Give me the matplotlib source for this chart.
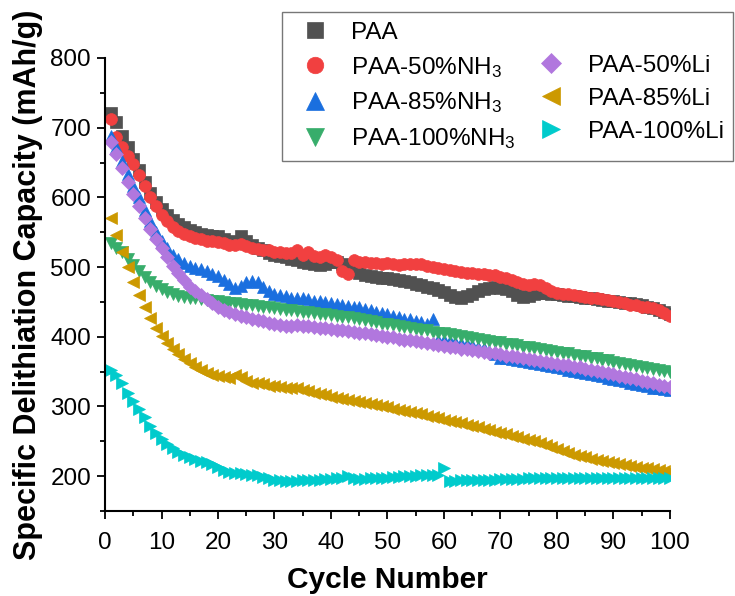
import matplotlib
matplotlib.use("Agg")
import matplotlib.pyplot as plt
from matplotlib.ticker import MultipleLocator
from matplotlib.lines import Line2D

plt.rcParams['font.family'] = ['Liberation Sans', 'DejaVu Sans']
plt.rcParams['mathtext.fontset'] = 'custom'
plt.rcParams['mathtext.rm'] = 'Liberation Sans'
plt.rcParams['mathtext.it'] = 'Liberation Sans:italic'
plt.rcParams['mathtext.bf'] = 'Liberation Sans:bold'

cycles = list(range(1, 101))

paa = [721, 708, 688, 672, 655, 640, 622, 606, 593, 583,
       575, 568, 562, 557, 553, 550, 548, 546, 545, 544,
       541, 538, 536, 545, 537, 532, 528, 524, 520, 518,
       516, 514, 512, 510, 508, 506, 504, 503, 505, 508,
       507, 505, 500, 496, 492, 489, 487, 486, 485, 484,
       483, 482, 480, 478, 476, 474, 472, 470, 467, 464,
       460, 457, 456, 458, 462, 465, 468, 470, 471, 470,
       468, 465, 460, 457, 458, 461, 463, 463, 462, 461,
       460, 459, 458, 457, 456, 455, 454, 453, 452, 451,
       450, 449, 448, 447, 445, 443, 441, 439, 436, 433]

nh3_50 = [712, 686, 672, 660, 648, 632, 617, 600, 588, 575,
          566, 558, 552, 548, 545, 542, 540, 538, 537, 536,
          534, 532, 531, 533, 530, 528, 526, 525, 524, 522,
          521, 520, 520, 524, 518, 522, 516, 515, 518, 514,
          510, 494, 490, 510, 508, 507, 506, 506, 505, 506,
          504, 503, 504, 505, 505, 504, 502, 500, 498, 497,
          496, 494, 493, 492, 491, 490, 490, 489, 488, 486,
          484, 481, 478, 476, 475, 476, 474, 470, 466, 463,
          462, 461, 460, 458, 457, 456, 455, 454, 453, 451,
          450, 448, 446, 445, 443, 442, 441, 438, 434, 430]

nh3_85 = [688, 672, 652, 634, 617, 600, 582, 566, 551, 538,
          527, 518, 512, 506, 502, 499, 497, 494, 490, 487,
          482, 476, 470, 473, 478, 480, 478, 472, 466, 462,
          460, 458, 456, 455, 456, 454, 452, 451, 450, 449,
          447, 445, 444, 443, 442, 440, 438, 436, 434, 432,
          430, 428, 426, 425, 423, 421, 419, 426, 396, 395,
          394, 392, 391, 389, 388, 386, 384, 380, 375, 370,
          369, 368, 366, 365, 364, 362, 361, 359, 358, 356,
          355, 353, 351, 350, 348, 346, 345, 343, 341, 339,
          338, 336, 334, 332, 331, 329, 327, 326, 325, 324]

nh3_100 = [534, 528, 521, 512, 503, 494, 486, 479, 473, 468,
           464, 461, 459, 457, 456, 455, 454, 453, 452, 451,
           450, 449, 448, 447, 446, 445, 444, 443, 442, 441,
           440, 439, 438, 437, 436, 435, 434, 433, 432, 431,
           430, 429, 428, 427, 425, 424, 422, 421, 419, 418,
           417, 415, 414, 413, 411, 410, 409, 407, 406, 405,
           404, 402, 401, 400, 398, 397, 396, 394, 393, 392,
           390, 389, 388, 386, 385, 384, 382, 381, 380, 378,
           377, 376, 374, 373, 372, 370, 369, 367, 366, 364,
           363, 361, 360, 358, 357, 355, 354, 352, 351, 349]

li_50 = [679, 662, 642, 622, 605, 588, 571, 555, 541, 527,
         514, 502, 491, 481, 472, 466, 460, 454, 448, 443,
         439, 435, 432, 430, 428, 426, 424, 422, 420, 418,
         417, 416, 416, 417, 416, 415, 414, 413, 412, 411,
         410, 409, 408, 407, 406, 405, 404, 402, 401, 400,
         399, 397, 396, 395, 394, 392, 391, 390, 388, 387,
         386, 385, 383, 382, 381, 380, 378, 377, 376, 375,
         373, 372, 371, 369, 368, 367, 365, 364, 363, 361,
         360, 359, 357, 356, 354, 353, 351, 350, 348, 346,
         344, 342, 341, 339, 337, 335, 333, 331, 330, 328]

li_85 = [570, 546, 522, 500, 479, 460, 442, 427, 413, 401,
         391, 383, 375, 368, 362, 357, 352, 348, 345, 343,
         342, 341, 345, 342, 336, 334, 333, 332, 330, 329,
         328, 327, 326, 326, 324, 322, 320, 318, 316, 314,
         312, 310, 309, 308, 307, 305, 304, 302, 300, 299,
         297, 295, 294, 292, 290, 289, 287, 285, 283, 281,
         279, 277, 276, 274, 272, 270, 268, 266, 264, 262,
         260, 258, 256, 254, 252, 250, 248, 245, 242, 239,
         236, 233, 231, 229, 227, 225, 223, 222, 220, 219,
         217, 216, 214, 213, 212, 211, 210, 209, 208, 207]

li_100 = [353, 345, 333, 320, 308, 297, 285, 272, 262, 254,
          246, 240, 235, 231, 227, 224, 222, 220, 217, 213,
          209, 206, 205, 204, 203, 202, 201, 199, 197, 195,
          194, 193, 193, 193, 194, 194, 195, 195, 196, 196,
          197, 198, 200, 197, 196, 196, 197, 197, 198, 198,
          199, 199, 200, 200, 200, 201, 201, 201, 202, 211,
          193, 193, 194, 194, 194, 195, 195, 195, 195, 196,
          196, 196, 196, 196, 197, 197, 197, 197, 197, 197,
          197, 197, 197, 197, 197, 197, 197, 197, 197, 197,
          197, 197, 197, 197, 197, 197, 197, 197, 197, 197]

series_labels = ['PAA', 'PAA-50%NH$_3$', 'PAA-85%NH$_3$', 'PAA-100%NH$_3$',
                 'PAA-50%Li', 'PAA-85%Li', 'PAA-100%Li']
series_data = [paa, nh3_50, nh3_85, nh3_100, li_50, li_85, li_100]
colors = ['#515151', '#F14040', '#1A6FDF', '#37AD6B', '#B177DE', '#CC9900', '#00CBCC']
markers = ['s', 'o', '^', 'v', 'D', '<', '>']
msizes = [8, 8.5, 9, 9, 7, 9, 9]

fig = plt.figure(figsize=(7.35, 5.96), dpi=100)
ax = fig.add_axes([105/735, 85/596, 565/735, 453/596])

lines = []
for d, lab, c, m, ms in zip(series_data, series_labels, colors, markers, msizes):
    ln, = ax.plot(cycles, d, linestyle='none', marker=m, markersize=ms,
                  color=c, markeredgecolor=c, markeredgewidth=0.5, label=lab)
    lines.append(ln)

ax.set_xlim(0, 100)
ax.set_ylim(150, 800)
ax.xaxis.set_major_locator(MultipleLocator(10))
ax.xaxis.set_minor_locator(MultipleLocator(5))
ax.yaxis.set_minor_locator(MultipleLocator(50))
ax.set_yticks([200, 300, 400, 500, 600, 700, 800])
ax.spines['top'].set_visible(False)
ax.spines['right'].set_visible(False)
for s in ['left', 'bottom']:
    ax.spines[s].set_linewidth(1.5)
ax.tick_params(which='major', direction='out', length=6, width=1.3, labelsize=17.5)
ax.tick_params(axis='x', which='major', pad=9)
ax.tick_params(axis='y', which='major', pad=4)
ax.tick_params(which='minor', direction='out', length=3.5, width=1.3)

ax.set_xlabel('Cycle Number', fontsize=21.5, fontweight='bold', labelpad=9)
ax.set_ylabel('Specific Delithiation Capacity (mAh/g)', fontsize=22, fontweight='bold', labelpad=5)

blank = Line2D([], [], linestyle='none', marker=None)
handles = [lines[0], lines[1], lines[2], lines[3], blank, lines[4], lines[5], lines[6]]
labels = [series_labels[0], series_labels[1], series_labels[2], series_labels[3], '',
          series_labels[4], series_labels[5], series_labels[6]]
leg = fig.legend(handles, labels, loc='upper left', bbox_to_anchor=(282/735, 1 - 12/596),
                 bbox_transform=fig.transFigure, ncol=2, fontsize=17.5, markerscale=1.4,
                 frameon=True, fancybox=False, edgecolor='#555555', borderaxespad=0,
                 handlelength=1.9, handletextpad=0.55, columnspacing=0.5, labelspacing=0.45,
                 borderpad=0.4)
leg.get_frame().set_linewidth(1.0)

fig.savefig('out.png', dpi=100)
